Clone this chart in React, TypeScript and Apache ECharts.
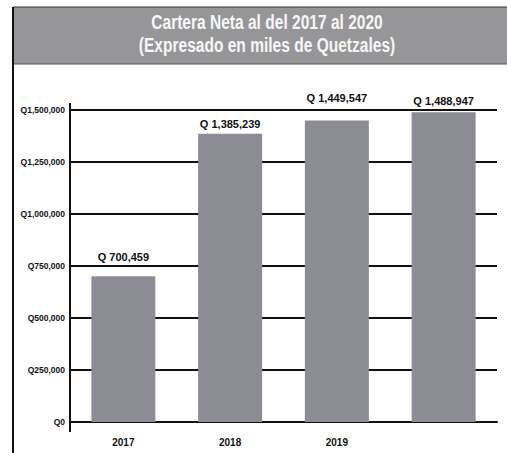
import React, { useEffect, useRef } from "react";
import * as echarts from "echarts";

const titleLines = ["Cartera Neta al del 2017 al 2020", "(Expresado en miles de Quetzales)"];
const categories = ["2017", "2018", "2019", "2020"];
const shownCategoryLabels = ["2017", "2018", "2019", ""];
const values = [700459, 1385239, 1449547, 1488947];
const yMax = 1500000;
const yInterval = 250000;

const FONT = '"Liberation Sans", "Roboto", sans-serif';
const labelGaps = [14, 4, 17, 6];

const fmt = (v: number) => v.toLocaleString("en-US");

export default function App() {
  const ref = useRef<HTMLDivElement>(null);
  useEffect(() => {
    if (!ref.current) return;
    const chart = echarts.init(ref.current, null, { renderer: "svg" });
    chart.setOption({
      animation: false,
      backgroundColor: "#ffffff",
      grid: { left: 70, right: 10, top: 110, bottom: 31, containLabel: false },
      graphic: [
        {
          type: "rect",
          shape: { x: 13, y: 7, width: 494, height: 57 },
          style: { fill: "#969698" },
          z: 0,
        },
        {
          type: "line",
          shape: { x1: 13, y1: 7, x2: 507, y2: 7 },
          style: { stroke: "#333", lineWidth: 1 },
        },
        {
          type: "line",
          shape: { x1: 13, y1: 64, x2: 507, y2: 64 },
          style: { stroke: "#555", lineWidth: 1 },
        },
        {
          type: "line",
          shape: { x1: 13, y1: 7, x2: 13, y2: 453 },
          style: { stroke: "#111", lineWidth: 2 },
        },
        {
          type: "line",
          shape: { x1: 70, y1: 103, x2: 70, y2: 432 },
          style: { stroke: "#111", lineWidth: 2 },
        },
        {
          type: "text",
          x: 267,
          y: 22,
          scaleX: 0.74,
          style: {
            text: titleLines[0],
            fill: "#f7f7f7",
            font: `bold 21px ${FONT}`,
            align: "center",
            verticalAlign: "middle",
          },
        },
        {
          type: "text",
          x: 267,
          y: 45,
          scaleX: 0.74,
          style: {
            text: titleLines[1],
            fill: "#f7f7f7",
            font: `bold 21px ${FONT}`,
            align: "center",
            verticalAlign: "middle",
          },
        },
      ],
      xAxis: {
        type: "category",
        data: categories,
        offset: 8,
        axisLine: { show: true, lineStyle: { color: "#111", width: 2 } },
        axisTick: { show: false },
        axisLabel: {
          color: "#111",
          fontFamily: FONT,
          fontWeight: "bold",
          fontSize: 10,
          margin: 7,
          formatter: (_v: string, i: number) => shownCategoryLabels[i],
        },
      },
      yAxis: {
        type: "value",
        min: 0,
        max: yMax,
        interval: yInterval,
        axisLine: { show: false },
        axisTick: { show: false },
        splitLine: { show: true, lineStyle: { color: "#111", width: 2 } },
        axisLabel: {
          color: "#111",
          fontFamily: FONT,
          fontWeight: "bold",
          fontSize: 8.5,
          margin: 5,
          formatter: (v: number) => "Q" + fmt(v),
        },
      },
      series: [
        {
          type: "bar",
          data: values.map((v, i) => ({ value: v, label: { distance: labelGaps[i] } })),
          barWidth: 64,
          itemStyle: { color: "#8c8c95" },
          label: {
            show: true,
            position: "top",
            distance: 4,
            color: "#111",
            fontFamily: FONT,
            fontWeight: "bold",
            fontSize: 11,
            formatter: (p: any) => "Q " + fmt(p.value),
          },
        },
      ],
    });
    return () => chart.dispose();
  }, []);
  return (
    <div
      ref={ref}
      style={{ position: "fixed", left: 0, top: 0, width: 507, height: 453 }}
    />
  );
}
